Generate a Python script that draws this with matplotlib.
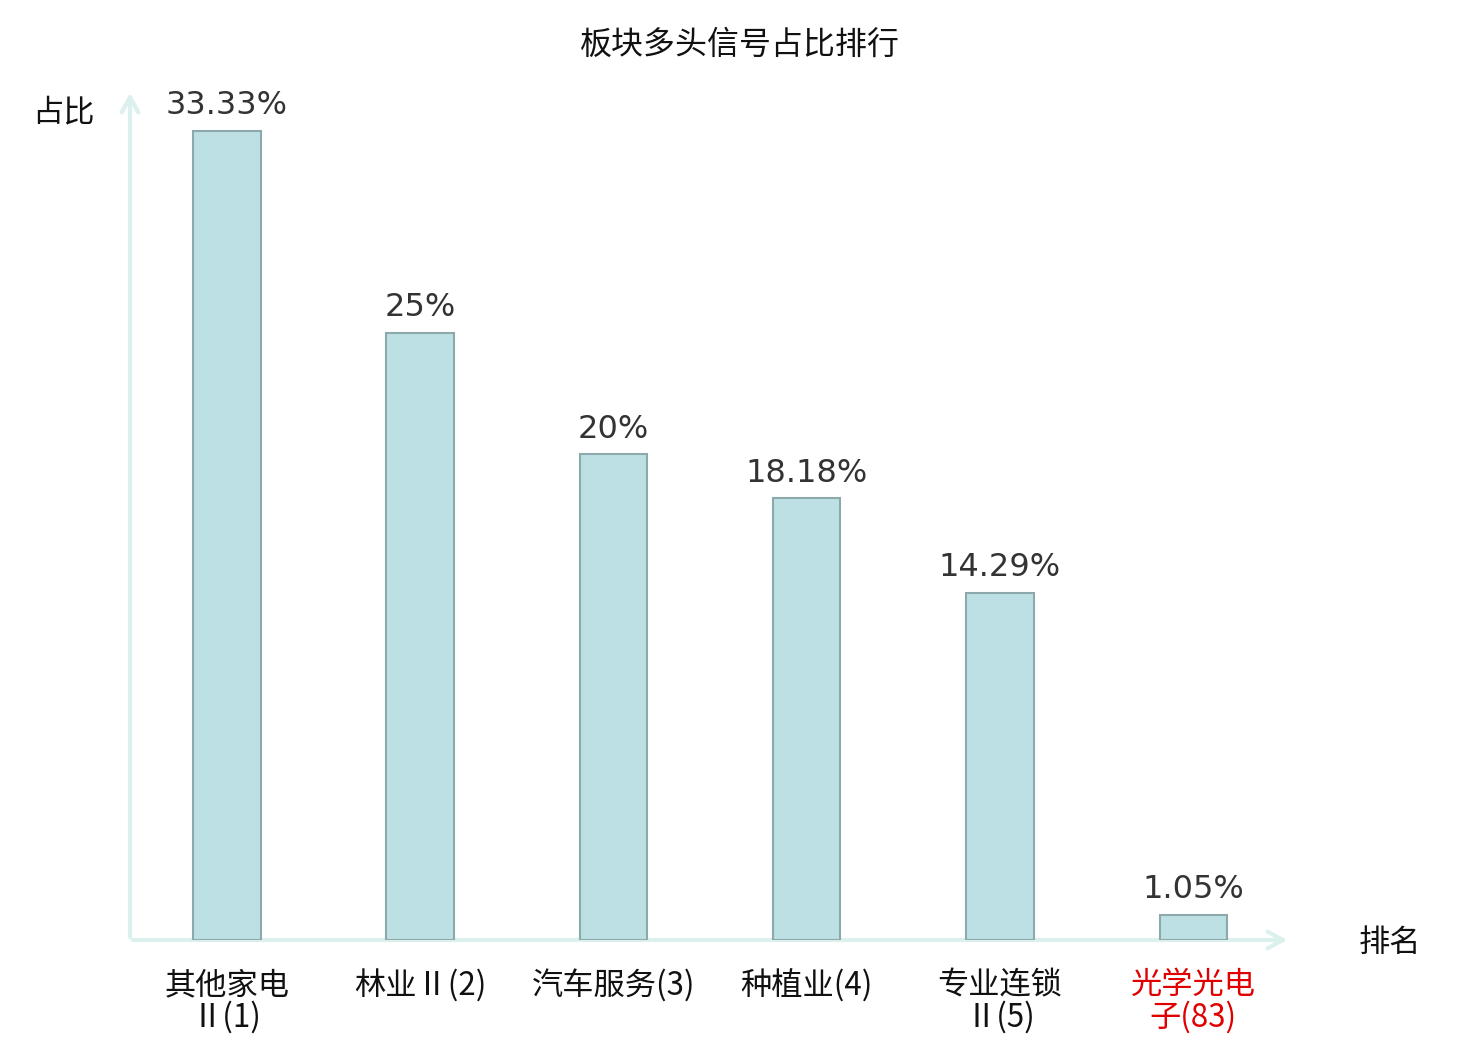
import matplotlib
matplotlib.use("Agg")
import matplotlib.pyplot as plt

plt.rcParams['font.family'] = ['Noto Sans CJK SC', 'DejaVu Sans']

categories = ["其他家电\nⅡ(1)", "林业Ⅱ(2)", "汽车服务(3)", "种植业(4)", "专业连锁\nⅡ(5)", "光学光电\n子(83)"]
values = [33.33, 25, 20, 18.18, 14.29, 1.05]
value_labels = ["33.33%", "25%", "20%", "18.18%", "14.29%", "1.05%"]
highlight = [False, False, False, False, False, True]

fig = plt.figure(figsize=(14.8, 10.4), dpi=100)
ax = fig.add_axes([130/1480, 100/1040, 1160/1480, 850/1040])

x = list(range(len(values)))
ax.bar(x, values, width=0.35, color="#bce0e3", edgecolor="#8ea9ab", linewidth=1.5, zorder=3)

for xi, v, lab in zip(x, values, value_labels):
    ax.annotate(lab, (xi, v), xytext=(0, 7), textcoords="offset points",
                ha="center", va="bottom", fontsize=23, color="#333333",
                family="DejaVu Sans")

ax.set_xlim(-0.5, 5.5)
ax.set_ylim(0, 35)
for s in ax.spines.values():
    s.set_visible(False)
ax.set_yticks([])
ax.set_xticks(x)
ax.set_xticklabels(categories, fontsize=22.5, linespacing=1.0)
ax.tick_params(axis="x", length=0, pad=21)
for t, h in zip(ax.get_xticklabels(), highlight):
    t.set_color("#e00000" if h else "#111111")
    t.set_verticalalignment("top")

axis_col = "#dcf1ee"
ax.annotate("", xy=(0, 1.0), xytext=(0, 0), xycoords="axes fraction",
            arrowprops=dict(arrowstyle="->,head_length=1.1,head_width=0.6", color=axis_col, lw=3),
            annotation_clip=False, zorder=1)
ax.annotate("", xy=(1.0, 0), xytext=(0, 0), xycoords="axes fraction",
            arrowprops=dict(arrowstyle="->,head_length=1.1,head_width=0.6", color=axis_col, lw=3),
            annotation_clip=False, zorder=1)

fig.text(63/1480, 1 - 112/1040, "占比", fontsize=22.5, ha="center", va="center", color="#111111")
fig.text(1390/1480, 1 - 943/1040, "排名", fontsize=22.5, ha="center", va="center", color="#111111")
fig.text(740/1480, 1 - 45/1040, "板块多头信号占比排行", fontsize=23, ha="center", va="center", color="#111111")

fig.savefig("out.png", dpi=100, facecolor="white")
